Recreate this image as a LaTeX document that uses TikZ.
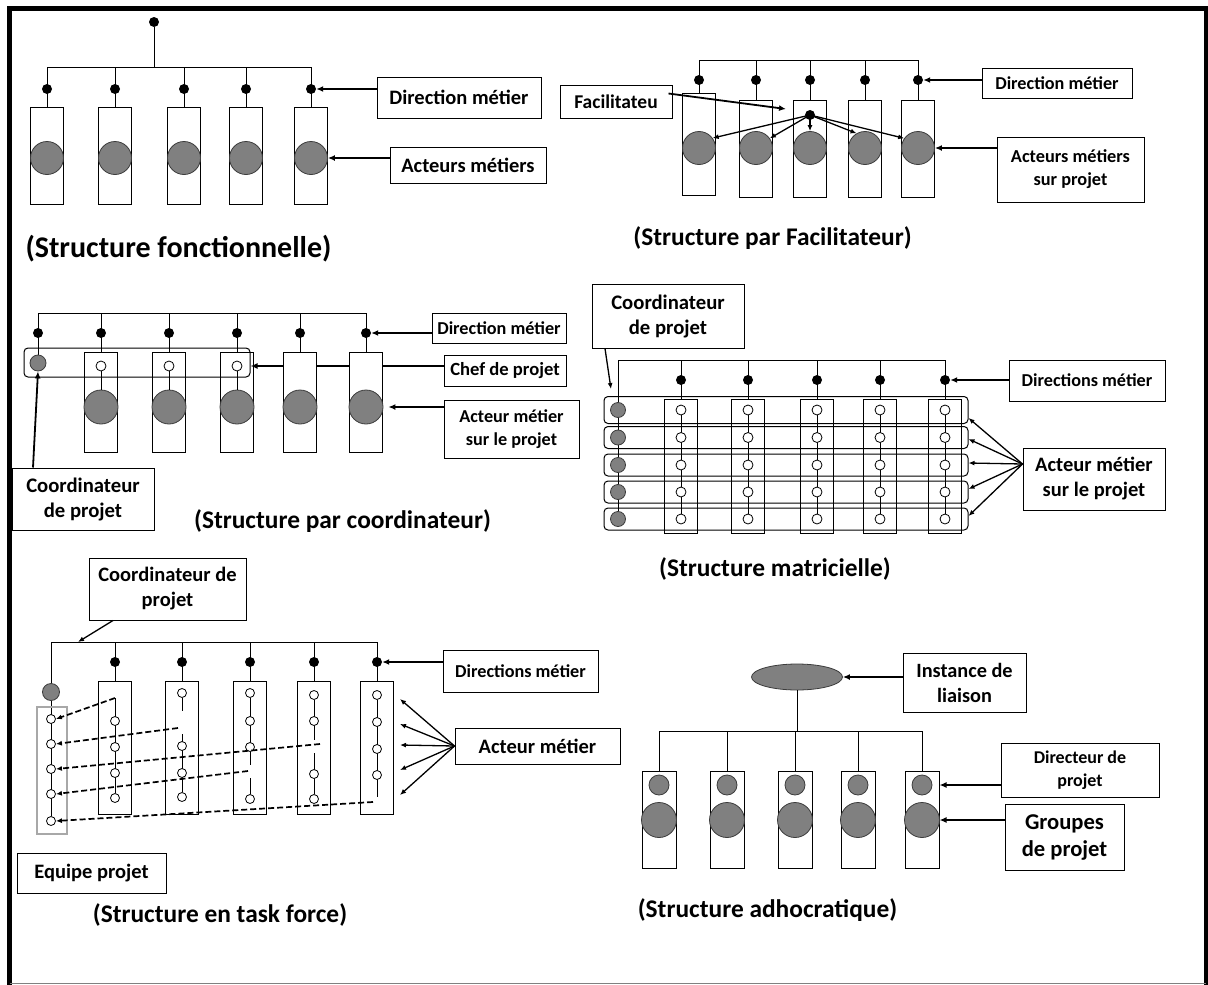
\documentclass[tikz,border=0pt]{standalone}
\usepackage{fontspec}
\setmainfont{Carlito}
\usetikzlibrary{arrows.meta,shapes.geometric,backgrounds}
\definecolor{cgray}{HTML}{808080}
\definecolor{cedge}{HTML}{3C3C3C}
\definecolor{tgray}{HTML}{A8A8A8}
\newcommand{\myfs}[2]{\fontsize{#1}{#2}\selectfont}
\tikzset{
  ln/.style={line width=1pt},
  colbox/.style={draw, line width=1pt, rectangle, inner sep=0pt, minimum width=33pt},
  gcirc/.style={circle, draw=cedge, fill=cgray, line width=0.8pt, inner sep=0pt},
  bdot/.style={circle, fill=black, inner sep=0pt, minimum size=10pt},
  wcirc/.style={circle, draw, fill=white, line width=0.8pt, inner sep=0pt, minimum size=9pt},
  lbl/.style={draw, line width=1pt, rectangle, align=center, inner sep=0pt},
  fa/.style={font=\bfseries\myfs{20.5}{25}},
  fb/.style={font=\bfseries\myfs{18.2}{23}},
  larrow/.style={line width=1.8pt, -{Latex[length=7pt,width=6pt]}},
  tarrow/.style={line width=1.3pt, -{Latex[length=6pt,width=5pt]}},
  darrow/.style={line width=1.7pt, dash pattern=on 6pt off 3pt, -{Latex[length=6pt,width=5pt]}},
  ttl/.style={inner sep=0pt, font=\bfseries\myfs{25.4}{30}},
}
\begin{document}
\begin{tikzpicture}[x=1pt,y=-1pt]
\useasboundingbox (0,0) rectangle (1208,985);
\begin{scope}[on background layer]
\fill[white] (0,0) rectangle (1208,985);
\end{scope}
% frame
\draw[line width=5pt] (9.5,986) -- (9.5,8.5) -- (1206,8.5) -- (1206,986);
\draw[line width=1.2pt, gray] (9.5,983.5) -- (1206,983.5);

% ================= Panel 1 =================
\coordinate (p1bar) at (154,67);
\foreach \i/\x in {1/47,2/115,3/184,4/246,5/311}{
  \node[colbox, minimum height=97pt] (p1b\i) at (\x,155.5) {};
  \node[gcirc, minimum size=33pt] (p1c\i) at (\x,158) {};
  \node[bdot] (p1d\i) at (\x,89) {};
  \draw[ln] (p1d\i |- p1bar) -- (p1b\i.north);
}
\node[bdot] (p1top) at (154,22) {};
\draw[ln] (p1top) -- (p1bar);
\draw[ln] (p1d1 |- p1bar) -- (p1d5 |- p1bar);
\node[lbl, fa, minimum width=164pt, minimum height=41pt] (p1ldir) at (459,97.5) {Direction métier};
\draw[larrow] (p1ldir.west |- p1d5) -- (p1d5.east);
\node[lbl, fa, minimum width=156pt, minimum height=36pt] (p1lact) at (468,165) {Acteurs métiers};
\draw[larrow] (p1lact.west |- p1c5) -- (p1c5.east);
\node[ttl, font=\bfseries\myfs{30}{36}] (p1t) at (178.5,249) {(Structure fonctionnelle)};

% ================= Panel 2 =================
\coordinate (p2bar) at (810,60);
\foreach \i/\x/\by/\bh in {1/699/144/102,2/756/148.5/97,3/810/148.5/97,4/865/148.5/97,5/918/148.5/97}{
  \node[colbox, minimum height=\bh] (p2b\i) at (\x,\by) {};
  \node[gcirc, minimum size=33pt] (p2c\i) at (\x,148) {};
  \node[bdot] (p2d\i) at (\x,80) {};
  \draw[ln] (p2d\i |- p2bar) -- (p2b\i.north);
}
\draw[ln] (p2d1 |- p2bar) -- (p2d5 |- p2bar);
\node[bdot] (p2fac) at (810,115) {};
\foreach \i/\a in {1/36,2/35,3/90,4/120,5/145}
  \draw[tarrow] (p2fac.center) -- (p2c\i.\a);
\node[lbl, font=\bfseries\myfs{19.5}{24}, minimum width=112pt, minimum height=33pt] (p2lfac) at (616,101.5) {Facilitateu};
\coordinate (p2ftip) at (786,109);
\draw[larrow] ([xshift=-4pt,yshift=8pt]p2lfac.east) -- (p2ftip);
\node[lbl, fb, minimum width=150pt, minimum height=30pt] (p2ldir) at (1057,83) {Direction métier};
\draw[larrow] (p2ldir.west |- p2d5) -- (p2d5.east);
\node[lbl, font=\bfseries\myfs{18.3}{23}, minimum width=147pt, minimum height=65pt] (p2lact) at (1070.5,169.5) {Acteurs métiers\\sur projet};
\draw[larrow] (p2lact.west |- p2c5) -- (p2c5.east);
\node[ttl] (p2t) at (772.5,238) {(Structure par Facilitateur)};

% ================= Panel 3 =================
\coordinate (p3bar) at (200,313);
\node[draw, line width=1pt, rounded corners=4pt, minimum width=226pt, minimum height=29pt, inner sep=0pt] (p3band) at (137,362.5) {};
\node[bdot] (p3d1) at (38,333) {};
\node[gcirc, minimum size=16pt] (p3g) at (38,363) {};
\begin{scope}[on background layer]
\draw[ln] (p3d1 |- p3bar) -- (p3g);
\end{scope}
\foreach \i/\x in {2/101,3/169,4/237}{
  \node[wcirc, minimum size=10pt] (p3w\i) at (\x,366) {};
}
\node[lbl, font=\bfseries\myfs{18.6}{23}, minimum width=122pt, minimum height=31pt] (p3lchef) at (505,370.5) {Chef de projet};
\draw[larrow] (p3lchef.west |- p3w2) -- (p3band.east |- p3w2);
\foreach \i/\x/\f in {2/101/none,3/169/none,4/237/none,5/300/white,6/366/white}{
  \node[colbox, minimum height=100pt, fill=\f] (p3b\i) at (\x,402) {};
  \node[gcirc, minimum size=34pt] (p3c\i) at (\x,407) {};
  \node[bdot] (p3d\i) at (\x,333) {};
  \draw[ln] (p3d\i |- p3bar) -- (p3b\i.north);
}
\foreach \i in {2,3,4} \draw[ln] (p3w\i.south) -- (p3c\i.north);
\draw[ln] (p3d1 |- p3bar) -- (p3d6 |- p3bar);
\node[lbl, fb, minimum width=134pt, minimum height=30pt] (p3ldir) at (499,328) {Direction métier};
\draw[larrow] (p3ldir.west |- p3d6) -- (p3d6.east);
\node[lbl, fb, minimum width=135pt, minimum height=58pt] (p3lact) at (511.5,429) {Acteur métier\\sur le projet};
\draw[larrow] (p3lact.west |- p3c6) -- ([xshift=5pt]p3c6.east);
\node[lbl, font=\bfseries\myfs{20.7}{25}, minimum width=142pt, minimum height=62pt] (p3lcoord) at (83,499) {Coordinateur\\de projet};
\draw[larrow] ([xshift=-50pt]p3lcoord.north) -- (p3g.south);
\node[ttl] (p3t) at (342.5,521) {(Structure par coordinateur)};

% ================= Panel 4 =================
\node[lbl, font=\bfseries\myfs{20.7}{25}, minimum width=152pt, minimum height=64pt] (p4lcoord) at (668,316) {Coordinateur\\de projet};
\coordinate (p4bar) at (780,360);
\foreach \r/\y/\h in {1/410/27,2/437.5/22,3/465/22,4/492/22,5/519/22}{
  \node[draw, line width=1pt, rounded corners=4pt, minimum width=364pt, minimum height=\h, inner sep=0pt] (p4r\r) at (786,\y) {};
  \node[gcirc, minimum size=15pt] (p4g\r) at (618,\y) {};
}
\begin{scope}[on background layer]
\draw[ln] (p4g1 |- p4bar) -- (p4g5);
\end{scope}
\foreach \i/\x in {2/681,3/748,4/817,5/880,6/945}{
  \node[colbox, minimum height=134pt] (p4b\i) at (\x,466) {};
  \node[bdot] (p4d\i) at (\x,380) {};
  \draw[ln] (p4d\i |- p4bar) -- (p4b\i.north);
  \begin{scope}[on background layer]
  \draw[ln] (p4d\i |- p4r1) -- (p4d\i |- p4r5);
  \end{scope}
  \foreach \r/\y in {1/410,2/437.5,3/465,4/492,5/519}{
    \node[wcirc, minimum size=10pt] (p4w\i\r) at (\x,\y) {};
  }
}
\draw[ln] (p4g1 |- p4bar) -- (p4d6 |- p4bar);
\coordinate (p4ctip) at (611,389);
\draw[tarrow] ([xshift=-63pt]p4lcoord.south) -- (p4ctip);
\node[lbl, fb, minimum width=156pt, minimum height=41pt] (p4ldir) at (1087,380.5) {Directions métier};
\draw[larrow] (p4ldir.west |- p4d6) -- (p4d6.east);
\node[lbl, fa, minimum width=142pt, minimum height=62pt] (p4lact) at (1094,479) {Acteur métier\\sur le projet};
\foreach \r/\s in {1/-8,2/-1.5,3/2,4/3,5/3}
  \draw[tarrow] ([yshift=15pt]p4lact.west) -- ([yshift=\s pt]p4r\r.east);
\node[ttl] (p4t) at (775,569) {(Structure matricielle)};

% ================= Panel 5 =================
\node[lbl, fa, minimum width=157pt, minimum height=62pt] (p5lcoord) at (167.5,589) {Coordinateur de\\projet};
\coordinate (p5bar) at (200,642);
\coordinate (p5ctip) at (78,642);
\draw[tarrow] ([xshift=-54.5pt]p5lcoord.south) -- (p5ctip);
\node[draw=tgray, line width=1.5pt, minimum width=30pt, minimum height=127pt, inner sep=0pt] (p5team) at (52,770.5) {};
\node[gcirc, minimum size=17pt] (p5g) at (51,692) {};
\foreach \k/\y in {1/719,2/744,3/769,4/794,5/821}
  \node[wcirc] (p5t\k) at (51,\y) {};
\begin{scope}[on background layer]
\draw[ln] (p5g |- p5bar) -- (p5t5);
\end{scope}
\foreach \i/\x in {2/115,3/182,4/250,5/314,6/377}{
  \node[colbox, minimum height=133pt] (p5b\i) at (\x,747.5) {};
  \node[bdot] (p5d\i) at (\x,662) {};
  \draw[ln] (p5d\i |- p5bar) -- (p5b\i.north);
}
\draw[ln] (p5g |- p5bar) -- (p5d6 |- p5bar);
\foreach \k/\y in {a/721,b/747,c/773,d/798} \node[wcirc] (p5w2\k) at (115,\y) {};
\coordinate (p5e2) at (115,698);
\foreach \k/\y in {a/693,b/746,c/773,d/797} \node[wcirc] (p5w3\k) at (182,\y) {};
\coordinate (p5e3a) at (182,711); \coordinate (p5e3b) at (182,734); \coordinate (p5s3) at (178,728);
\foreach \k/\y in {a/693,b/721,c/747,d/799} \node[wcirc] (p5w4\k) at (250,\y) {};
\coordinate (p5e4a) at (250,765); \coordinate (p5e4b) at (250,778); \coordinate (p5s4) at (248,771);
\foreach \k/\y in {a/695,b/721,c/774,d/799} \node[wcirc] (p5w5\k) at (314,\y) {};
\coordinate (p5e5a) at (314,740); \coordinate (p5e5b) at (314,753); \coordinate (p5s5) at (320,744);
\foreach \k/\y in {a/695,b/722,c/749,d/775} \node[wcirc] (p5w6\k) at (377,\y) {};
\coordinate (p5e6) at (377,797); \coordinate (p5s6) at (373,802);
\begin{scope}[on background layer]
\draw[ln] (p5e2) -- (p5w2d);
\draw[ln] (p5w3a) -- (p5e3a); \draw[ln] (p5e3b) -- (p5w3d);
\draw[ln] (p5w4a) -- (p5e4a); \draw[ln] (p5e4b) -- (p5w4d);
\draw[ln] (p5w5a) -- (p5e5a); \draw[ln] (p5e5b) -- (p5w5d);
\draw[ln] (p5w6a) -- (p5e6);
\end{scope}
\draw[darrow] (p5e2) -- (p5t1.east);
\draw[darrow] (p5s3) -- (p5t2.east);
\draw[darrow] (p5s5) -- (p5t3.east);
\draw[darrow] (p5s4) -- (p5t4.east);
\draw[darrow] (p5s6) -- (p5t5.east);
\node[lbl, fb, minimum width=155pt, minimum height=42pt] (p5ldir) at (520.5,671) {Directions métier};
\draw[larrow] (p5ldir.west |- p5d6) -- (p5d6.east);
\node[lbl, fa, minimum width=165pt, minimum height=36pt] (p5lact) at (537.5,746) {Acteur métier};
\foreach \k/\y in {1/699,2/724,3/745,4/770,5/795}{
  \coordinate (p5a\k) at (400,\y);
  \draw[tarrow] (p5lact.west) -- (p5a\k);
}
\node[lbl, fa, minimum width=149pt, minimum height=40pt] (p5lteam) at (91.5,873) {Equipe projet};
\node[ttl] (p5t) at (220,915) {(Structure en task force)};

% ================= Panel 6 =================
\node[ellipse, draw=cedge, fill=cgray, line width=0.8pt, minimum width=91pt, minimum height=26pt, inner sep=0pt] (p6e) at (797,677) {};
\coordinate (p6bar) at (795,731);
\foreach \i/\x in {1/659,2/727,3/795,4/858,5/922}{
  \node[colbox, minimum width=34pt, minimum height=97pt] (p6b\i) at (\x,819.5) {};
  \node[gcirc, minimum size=20pt] (p6s\i) at (\x,785) {};
  \node[gcirc, minimum size=35pt] (p6c\i) at (\x,820) {};
  \draw[ln] (p6b\i.north |- p6bar) -- (p6b\i.north);
}
\draw[ln] (p6b1.north |- p6bar) -- (p6b5.north |- p6bar);
\draw[ln] (p6e.south) -- (p6e.south |- p6bar);
\node[lbl, font=\bfseries\myfs{20.3}{25}, minimum width=123pt, minimum height=59pt] (p6linst) at (964.5,682.5) {Instance de\\liaison};
\draw[larrow] (p6linst.west |- p6e) -- (p6e.east);
\node[lbl, font=\bfseries\myfs{18}{23}, minimum width=158pt, minimum height=54pt] (p6ldir) at (1080,770) {Directeur de\\projet};
\draw[larrow] (p6ldir.west |- p6s5) -- (p6b5.east |- p6s5);
\node[lbl, font=\bfseries\myfs{22.6}{27}, minimum width=119pt, minimum height=66pt] (p6lgrp) at (1064.5,837) {Groupes\\de projet};
\draw[larrow] (p6lgrp.west |- p6c5) -- (p6b5.east |- p6c5);
\node[ttl] (p6t) at (767.5,910) {(Structure adhocratique)};
\end{tikzpicture}
\end{document}
